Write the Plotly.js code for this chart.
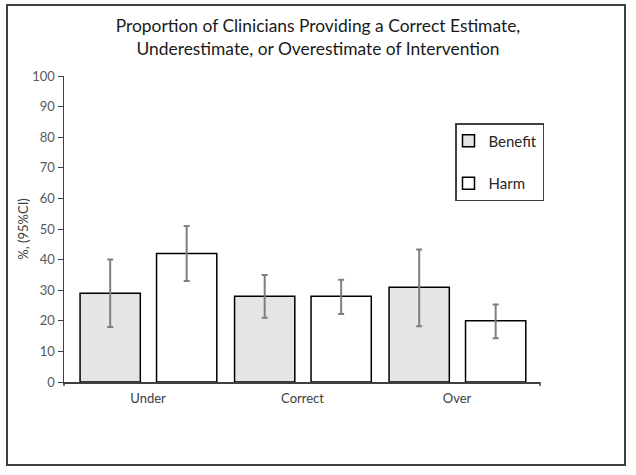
<!DOCTYPE html>
<html>
<head>
<meta charset="utf-8">
<script src="https://cdn.plot.ly/plotly-3.0.1.min.js"></script>
<style>html,body{margin:0;padding:0;background:#fff;}#chart{width:636px;height:475px;}</style>
</head>
<body>
<div id="chart"></div>
<script>
const categories = ["Under", "Correct", "Over"];
const benefitValues = [29, 28, 31];
const benefitCILow = [18, 21, 18.2];
const benefitCIHigh = [40, 35, 43.3];
const harmValues = [42, 28, 20];
const harmCILow = [33, 22.2, 14.3];
const harmCIHigh = [51, 33.4, 25.3];
const yTickValues = [0, 10, 20, 30, 40, 50, 60, 70, 80, 90, 100];

const diff = (a, b) => a.map((v, i) => v - b[i]);

const errStyle = {type: 'data', symmetric: false, color: '#7f7f7f', thickness: 2, width: 3};

const traces = [
  {
    type: 'bar', name: 'Benefit', x: categories, y: benefitValues,
    width: 0.39, offset: -0.44, legendgroup: 'b',
    marker: {color: '#e6e4e4', line: {color: '#000', width: 1.5}},
    error_y: Object.assign({}, errStyle, {array: diff(benefitCIHigh, benefitValues), arrayminus: diff(benefitValues, benefitCILow)})
  },
  {
    type: 'bar', name: 'Harm', x: categories, y: harmValues,
    width: 0.39, offset: 0.055, legendgroup: 'h',
    marker: {color: '#ffffff', line: {color: '#000', width: 1.5}},
    error_y: Object.assign({}, errStyle, {array: diff(harmCIHigh, harmValues), arrayminus: diff(harmValues, harmCILow)})
  }
];

const layout = {
  width: 636, height: 475,
  margin: {l: 64, r: 96, t: 76, b: 93},
  paper_bgcolor: '#fff', plot_bgcolor: '#fff',
  font: {family: 'Lato, Calibri, sans-serif', color: '#595959', size: 13},
  title: {
    text: 'Proportion of Clinicians Providing a Correct Estimate,<br>Underestimate, or Overestimate of Intervention',
    x: 0.5, xref: 'container', y: 0.932, yref: 'container', yanchor: 'top',
    font: {family: 'Lato, Calibri, sans-serif', size: 17.4, color: '#1a1a1a'}
  },
  xaxis: {
    type: 'category', range: [-0.544, 2.537],
    showline: true, linecolor: '#404040', linewidth: 1.5,
    ticks: '', showgrid: false, zeroline: false, ticklabelstandoff: 4,
    tickfont: {size: 13, color: '#404040'}
  },
  yaxis: {
    range: [0, 100], tickvals: yTickValues, ticktext: yTickValues.map(String),
    showline: true, linecolor: '#404040', linewidth: 1.5,
    ticks: 'outside', ticklen: 5, tickcolor: '#404040', tickwidth: 1,
    showgrid: false, zeroline: false,
    tickfont: {size: 13, color: '#595959'},
    title: {text: '%, (95%CI)', font: {size: 13, color: '#404040'}, standoff: 0}
  },
  showlegend: true,
  legend: {
    x: (455 - 64) / 476, xanchor: 'left', y: (382 - 123) / 306, yanchor: 'top',
    bordercolor: '#404040', borderwidth: 1.5, bgcolor: '#fff',
    font: {size: 15, color: '#262626'},
    traceorder: 'grouped', tracegroupgap: 20, indentation: -8
  },
  shapes: [
    {type: 'rect', xref: 'paper', yref: 'paper',
     x0: (7 - 64) / 476, x1: (625 - 64) / 476, y0: (382 - 465) / 306, y1: (382 - 5) / 306,
     line: {color: '#404040', width: 2}, fillcolor: 'rgba(0,0,0,0)'},
    {type: 'line', xref: 'paper', yref: 'paper', x0: 1, x1: 1, y0: 0, y1: -4 / 306,
     line: {color: '#404040', width: 1.5}},
    {type: 'line', xref: 'paper', yref: 'paper', x0: 0, x1: 0, y0: 0, y1: -4 / 306,
     line: {color: '#404040', width: 1.5}}
  ]
};

Plotly.newPlot('chart', traces, layout, {displayModeBar: false, staticPlot: true});
</script>
</body>
</html>
